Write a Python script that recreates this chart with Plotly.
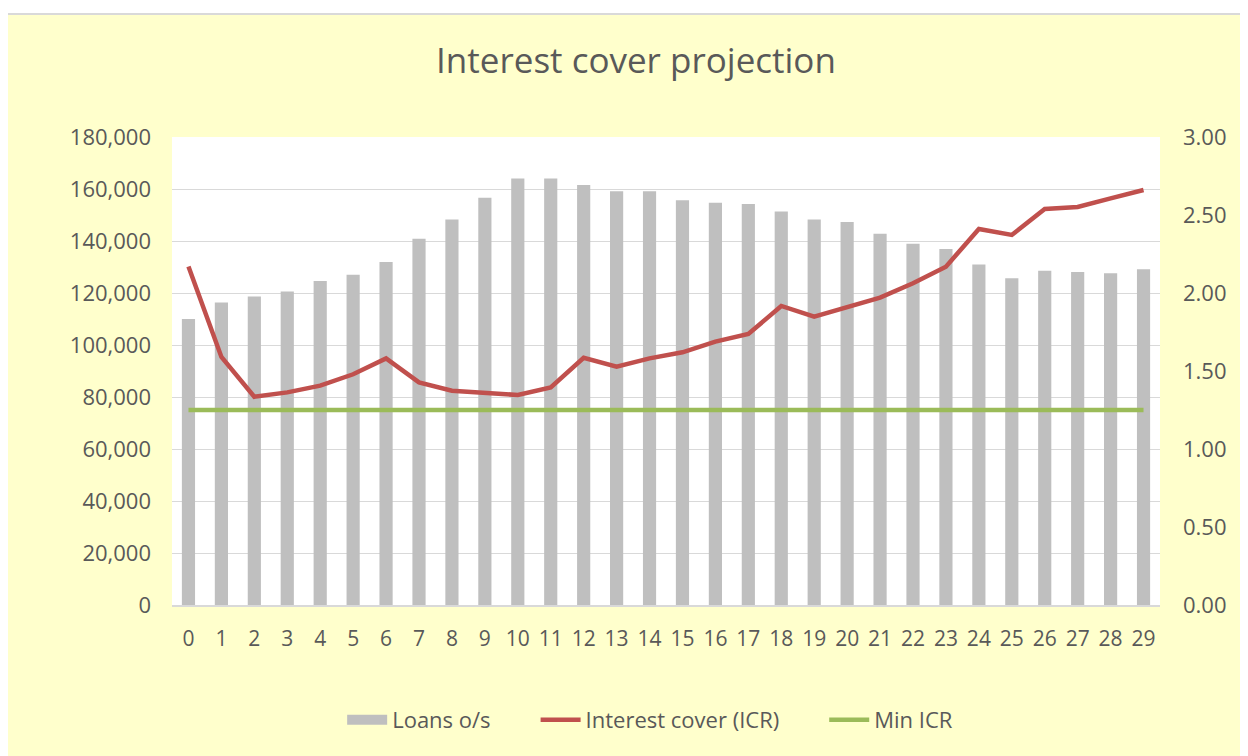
import plotly.graph_objects as go

years = list(range(30))
loans = [110000, 116300, 118700, 120600, 124600, 127000, 131900, 140900, 148300, 156600,
         164000, 164000, 161500, 159100, 159100, 155700, 154700, 154200, 151300, 148300,
         147300, 142800, 138900, 136900, 131000, 125700, 128600, 128100, 127600, 129100]
icr = [2.17, 1.59, 1.335, 1.363, 1.406, 1.479, 1.581, 1.427, 1.374, 1.363,
       1.346, 1.395, 1.585, 1.528, 1.581, 1.62, 1.688, 1.737, 1.917, 1.848,
       1.912, 1.970, 2.062, 2.169, 2.41, 2.372, 2.538, 2.551, 2.607, 2.66]
min_icr = [1.25] * 30
series_names = ["Loans o/s", "Interest cover (ICR)", "Min ICR"]

TXT = "#595959"
FONT = "Open Sans"
OFF = 8  # browser body margin
PAD = "\u00a0" * 7

fig = go.Figure()
fig.add_trace(go.Bar(x=years, y=loans, name=series_names[0], marker_color="#BFBFBF",
                     marker_line_width=0, yaxis="y", showlegend=False))
# legend entry for bars (wide grey block like the original)
fig.add_trace(go.Scatter(x=[None], y=[None], name=series_names[0] + PAD, mode="lines",
                         line=dict(color="#BFBFBF", width=16), yaxis="y"))
fig.add_trace(go.Scatter(x=years, y=icr, name=series_names[1] + PAD, mode="lines",
                         line=dict(color="#C0504D", width=4.5), yaxis="y2"))
fig.add_trace(go.Scatter(x=years, y=min_icr, name=series_names[2], mode="lines",
                         line=dict(color="#9BBB59", width=4.5), yaxis="y2"))

fig.update_layout(
    width=1248, height=756,
    margin=dict(l=172 - OFF, r=88 + OFF, t=137 - OFF, b=151 + OFF),
    paper_bgcolor="#FFFFCC",
    plot_bgcolor="white",
    bargap=0.6,
    font=dict(family=FONT, color=TXT, size=22),
    title=dict(text="Interest cover projection", x=(636 - OFF) / 1248, xanchor="center",
               y=1 - (61 - OFF) / 756, yanchor="middle",
               font=dict(family=FONT, size=35, color=TXT)),
    xaxis=dict(type="category", tickmode="array", tickvals=years,
               ticktext=[str(y) for y in years], showgrid=False,
               showline=True, linecolor="#D9D9D9", linewidth=1.5,
               ticks="", ticklabelstandoff=14, tickfont=dict(size=21)),
    yaxis=dict(range=[0, 180000], tickvals=list(range(0, 180001, 20000)),
               tickformat=",", showgrid=True, gridcolor="#D9D9D9", gridwidth=1,
               zeroline=False, ticks="", ticklabelstandoff=20,
               tickfont=dict(size=22)),
    yaxis2=dict(range=[0, 3], tickvals=[0, 0.5, 1, 1.5, 2, 2.5, 3],
                tickformat=".2f", overlaying="y", side="right", showgrid=False,
                zeroline=False, ticks="", ticklabelstandoff=22,
                tickfont=dict(size=22)),
    legend=dict(orientation="h", x=(612 - OFF) / 1248, xanchor="center",
                y=1 - (720 - OFF) / 756, yanchor="middle", yref="container",
                bgcolor="rgba(0,0,0,0)", font=dict(size=22), itemwidth=40,
                traceorder="normal"),
    showlegend=True,
    shapes=[
        dict(type="rect", xref="paper", yref="paper", layer="below",
             x0=-(172 - OFF) / 988, x1=(1248 - 172 + OFF) / 988,
             y0=1 + (137 - 14) / 468, y1=1 + (137 - OFF + 2) / 468,
             fillcolor="white", line=dict(width=0)),
        dict(type="line", xref="paper", yref="paper",
             x0=-(172 - OFF) / 988, x1=(1248 - 172 + OFF) / 988,
             y0=1 + (137 - 14) / 468, y1=1 + (137 - 14) / 468,
             line=dict(color="#D9D9D9", width=2)),
    ],
)

fig.write_html("out.html")
